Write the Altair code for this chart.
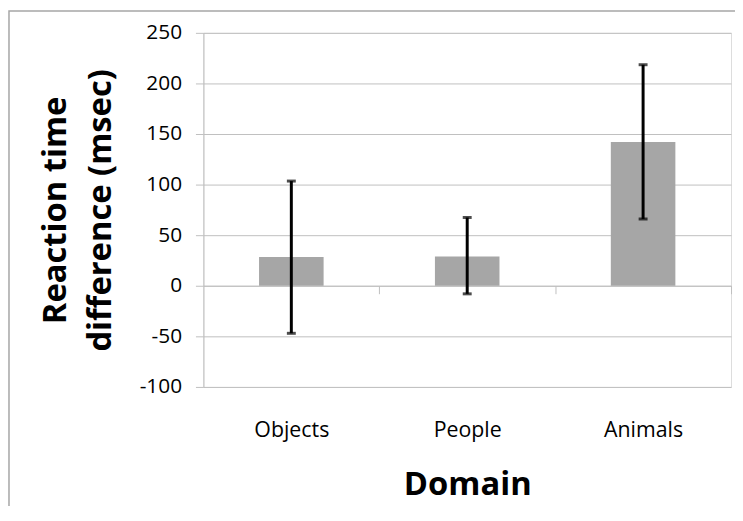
import altair as alt
import pandas as pd

categories = ["Objects", "People", "Animals"]
means = [28.5, 29.0, 142.0]
lower = [-47.0, -8.0, 66.0]
upper = [103.5, 67.5, 218.5]
y_ticks = [-100, -50, 0, 50, 100, 150, 200, 250]
y_min, y_max = -100, 250

df = pd.DataFrame({"Domain": categories, "mean": means, "lo": lower, "hi": upper})

W, H = 532, 357
PAD_L, PAD_T = 197, 23
step = W / len(categories)
zero_offset = H * (0 - y_min) / (y_max - y_min)  # distance of zero line above bottom

FONT = "Open Sans"
GRID = "#bfbfbf"

x_scale = alt.Scale(domain=categories, paddingInner=0.633, paddingOuter=0.3165)
y_scale = alt.Scale(domain=[y_min, y_max], nice=False)

x_axis = alt.Axis(
    title="Domain", orient="bottom", offset=-zero_offset,
    domainColor=GRID, domainWidth=1,
    tickColor=GRID, tickSize=8, tickWidth=1,
    bandPosition=0.5, tickOffset=step / 2, labelOffset=-step / 2,
    labelAngle=0, labelFont=FONT, labelFontSize=21.5, labelColor="#000000",
    labelPadding=127, grid=False,
    titleFont=FONT, titleFontSize=33, titleFontWeight="bold", titleColor="#000000",
    titlePadding=28,
)
y_axis = alt.Axis(
    values=y_ticks, title=["Reaction time", "difference (msec)"],
    labelExpr="datum.value < 0 ? '-' + abs(datum.value) : '' + datum.value",
    grid=True, gridColor=GRID, gridWidth=1,
    domainColor=GRID, tickColor=GRID, tickSize=8,
    labelFont=FONT, labelFontSize=21, labelColor="#000000", labelPadding=14,
    titleFont=FONT, titleFontSize=33, titleFontWeight="bold", titleColor="#000000",
    titleLineHeight=45, titlePadding=22,
)

xenc = alt.X("Domain:N", scale=x_scale, axis=x_axis, sort=categories)

frame = alt.Chart(alt.Data(values=[{}])).mark_rect(
    fillOpacity=0, stroke="#a6a6a6", strokeWidth=1.5
).encode(
    x=alt.value(-PAD_L + 1), y=alt.value(-PAD_T + 1),
    x2=alt.value(W + 200), y2=alt.value(H + 300),
)

bars = alt.Chart(df).mark_bar(color="#a6a6a6").encode(
    x=xenc,
    y=alt.Y("mean:Q", scale=y_scale, axis=y_axis),
    y2=alt.datum(0),
)

rules = alt.Chart(df).mark_rule(color="#000000", strokeWidth=3).encode(
    x=xenc,
    y=alt.Y("lo:Q", scale=y_scale, axis=y_axis),
    y2="hi:Q",
)

cap_hi = alt.Chart(df).mark_tick(color="#000000", thickness=3, size=9).encode(
    x=xenc, y=alt.Y("hi:Q", scale=y_scale, axis=y_axis),
)
cap_lo = alt.Chart(df).mark_tick(color="#000000", thickness=3, size=9).encode(
    x=xenc, y=alt.Y("lo:Q", scale=y_scale, axis=y_axis),
)

chart = alt.layer(frame, bars, rules, cap_hi, cap_lo).properties(
    width=W, height=H,
    padding={"left": PAD_L, "top": PAD_T, "right": 4, "bottom": 118},
    autosize=alt.AutoSizeParams(type="none"),
).configure_view(
    stroke="#595959", strokeWidth=1.2
).configure(
    font=FONT, background="#ffffff"
)

chart.save("out.html", embed_options={"renderer": "svg", "actions": False})
